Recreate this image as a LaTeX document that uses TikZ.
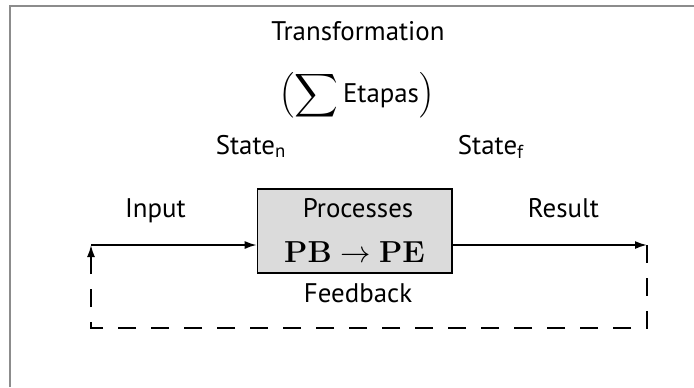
\documentclass[tikz,border=0pt]{standalone}
\usepackage[no-math]{fontspec}
\setmainfont{PT Sans}
\usepackage{amsmath}
\usetikzlibrary{arrows.meta}

\tikzset{
  lbl/.style={inner sep=0pt, anchor=base, font=\fontsize{15.3}{18}\selectfont},
  flow/.style={line width=1pt, -{Latex[length=2.4mm,width=1.6mm]}},
  fback/.style={line width=1pt, dash pattern=on 0.36cm off 0.3cm, -{Latex[length=2.4mm,width=1.6mm]}},
  procbox/.style={draw, line width=0.9pt, fill=black!14, minimum width=3.89cm, minimum height=1.68cm, inner sep=0pt}
}

\begin{document}
\begin{tikzpicture}[x=0.02cm, y=-0.02cm]
\useasboundingbox (0,0) rectangle (694,387);
\draw[black!45, line width=0.9pt] (10,387) -- (10,6) -- (694,6);

\node[lbl] (transf) at (358,40) {Transformation};
\node[lbl] (etapas) at (357,102) {\smash{$\left(\vcenter{\hbox{\scalebox{1.2}{$\displaystyle\sum$}}}\,\text{Etapas}\right)$}};
\node[lbl] (staten) at (251,154) {State\textsubscript{n}};
\node[lbl] (statef) at (491,154) {State\textsubscript{f}};

\node[procbox] (proc) at (354.75,231) {};
\node[lbl] (procname) at (358,217) {Processes};
\node[lbl, font=\fontsize{18.5}{22}\selectfont] (procmath) at (354.5,262) {$\mathbf{PB\rightarrow PE}$};
\node[lbl] (input) at (155.5,217) {Input};
\node[lbl] (result) at (563.5,217) {Result};
\node[lbl] (feedback) at (358,302) {Feedback};

\coordinate (inL) at (91,245);
\coordinate (outR) at (647,245);
\coordinate (fbR) at (647,328);
\coordinate (fbL) at (91,328);

\draw[flow] (inL) -- (proc.west |- inL);
\draw[flow] (proc.east |- outR) -- (outR);
\draw[fback] (outR) -- (fbR) -- (fbL) -- (inL);
\end{tikzpicture}
\end{document}
